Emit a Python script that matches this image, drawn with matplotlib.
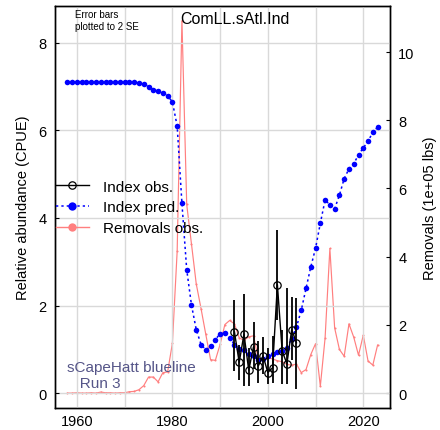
import matplotlib
matplotlib.use("Agg")
import matplotlib.pyplot as plt
import numpy as np
from matplotlib.lines import Line2D

plt.rcParams['font.family'] = ['Liberation Sans', 'DejaVu Sans']

years = list(range(1958, 2024))
pred = [7.10, 7.10, 7.10, 7.10, 7.10, 7.10, 7.10, 7.10, 7.10, 7.10,
        7.10, 7.10, 7.10, 7.10, 7.10, 7.08, 7.05, 7.00, 6.93, 6.91,
        6.86, 6.79, 6.65, 6.10, 4.33, 2.82, 2.01, 1.45, 1.11, 0.99,
        1.07, 1.22, 1.36, 1.37, 1.26, 1.11, 1.01, 0.99, 0.89, 0.85,
        0.76, 0.79, 0.84, 0.89, 0.95, 0.96, 1.04, 1.24, 1.51, 1.89,
        2.39, 2.88, 3.31, 3.88, 4.41, 4.30, 4.21, 4.52, 4.90, 5.12,
        5.24, 5.44, 5.60, 5.75, 5.96, 6.07]

removals = [0.0, 0.0, 0.01, 0.0, 0.0, 0.01, 0.0, 0.03, 0.01, 0.01,
            0.0, 0.01, 0.01, 0.04, 0.05, 0.10, 0.22, 0.47, 0.47, 0.33,
            0.60, 0.62, 1.46, 4.16, 10.92, 5.53, 4.37, 3.20, 2.48, 1.72,
            0.98, 0.96, 1.43, 2.01, 2.13, 2.03, 1.62, 1.55, 1.65, 1.68,
            1.00, 0.95, 1.04, 1.00, 0.95, 0.92, 0.84, 0.82, 0.85, 0.60,
            0.69, 1.13, 1.45, 0.20, 1.62, 4.24, 1.91, 1.28, 1.08, 2.03,
            1.64, 1.11, 1.70, 0.94, 0.82, 1.41]

obs_years = list(range(1993, 2007))
obs = [1.40, 0.70, 1.35, 0.52, 1.06, 0.62, 0.85, 0.47, 0.58, 2.48,
       0.96, 0.67, 1.45, 1.15]
obs_lo = [0.50, 0.31, 0.17, 0.17, 0.54, 0.24, 0.43, 0.20, 0.24, 1.68,
          0.20, 0.20, 0.75, 0.09]
obs_hi = [2.13, 1.11, 2.27, 1.03, 1.63, 1.19, 1.28, 1.04, 1.31, 3.73,
          1.45, 2.39, 2.20, 2.18]

red = '#FF7F7F'

fig = plt.figure(figsize=(4.4, 4.31), dpi=100)
ax = fig.add_axes([55/440, 22/431, 335/440, 402/431])
ax2 = ax.twinx()

ax.set_xlim(1955.4, 2025.6)
ax.set_ylim(-0.34, 8.84)
ax2.set_ylim(-0.437, 11.35)

# grid
for gx in range(1960, 2030, 10):
    ax.axvline(gx, color='#D9D9D9', lw=1, zorder=0)
for gy in [0, 2, 4, 6, 8]:
    ax.axhline(gy, color='#D9D9D9', lw=1, zorder=0)

ax.set_zorder(ax2.get_zorder() + 1)
ax.patch.set_visible(False)

ax2.plot(years, removals, color=red, lw=0.85, marker='o', markersize=1.5,
         markeredgewidth=0)

ax.plot(years, pred, color='blue', ls=(0, (1.5, 2)), lw=1.1, marker='o',
        markersize=4.0, markeredgewidth=0)

ax.vlines(obs_years, obs_lo, obs_hi, color='black', lw=1.3)
ax.plot(obs_years, obs, color='black', lw=1.0, marker='o', markersize=5.3,
        markerfacecolor='none', markeredgecolor='black', markeredgewidth=0.9)

ax.set_xticks([1960, 1980, 2000, 2020])
ax.set_yticks([0, 2, 4, 6, 8])
ax2.set_yticks([0, 2, 4, 6, 8, 10])
for a in (ax, ax2):
    a.tick_params(direction='in', length=3, labelsize=10.5, width=0.8)
    for s in a.spines.values():
        s.set_linewidth(1.0)
ax.tick_params(axis='x', length=0, pad=4)
ax2.tick_params(axis='y', pad=6)
ax.tick_params(axis='y', pad=6)

ax.set_ylabel('Relative abundance (CPUE)', fontsize=10.5, labelpad=6)
ax2.set_ylabel('Removals (1e+05 lbs)', fontsize=10.5, labelpad=6)

ax.text(1981.6, 8.55, 'ComLL.sAtl.Ind', fontsize=11.5, ha='left', va='center')
ax.text(1959.5, 8.52, 'Error bars\nplotted to 2 SE', fontsize=7, ha='left',
        va='center', linespacing=1.25)
ax.text(1958.0, 0.42, 'sCapeHatt blueline\n   Run 3', fontsize=11,
        color='#555588', ha='left', va='center', linespacing=1.2)

handles = [
    Line2D([], [], color='black', lw=1.0, marker='o', markersize=5.3,
           markerfacecolor='none', markeredgewidth=0.9),
    Line2D([], [], color='blue', ls=(0, (1.5, 2)), lw=1.1, marker='o',
           markersize=6, markeredgewidth=0),
    Line2D([], [], color=red, lw=1.0, marker='o', markersize=6,
           markeredgewidth=0),
]
ax.legend(handles, ['Index obs.', 'Index pred.', 'Removals obs.'],
          loc='upper left', bbox_to_anchor=(-0.03, 0.595), frameon=False,
          fontsize=11, handlelength=2.2, handletextpad=0.9,
          labelspacing=0.45, borderpad=0.2)

fig.savefig('out.png', dpi=100)
